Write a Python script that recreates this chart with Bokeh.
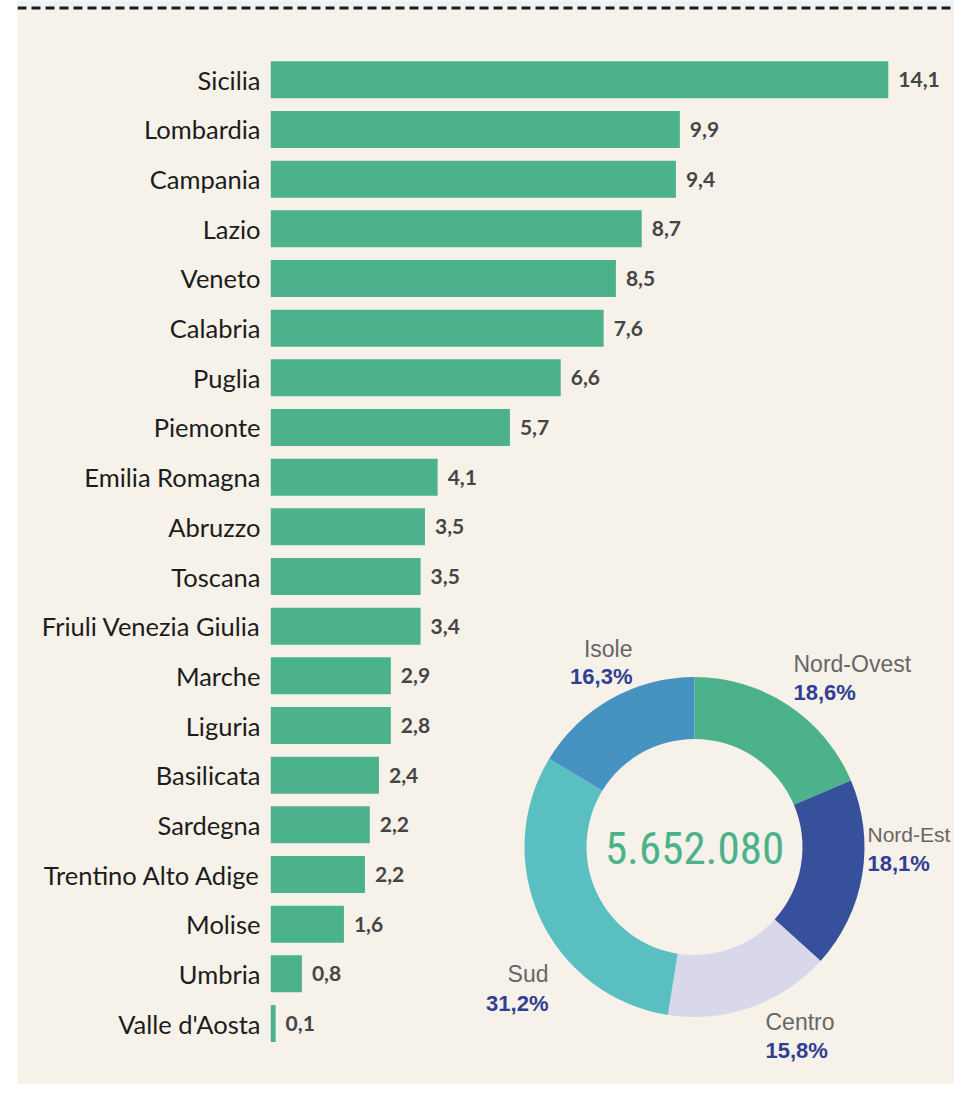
import math
from bokeh.plotting import figure
from bokeh.models import Range1d
from bokeh.core.properties import value
from bokeh.embed import file_html
from bokeh.resources import INLINE

# ---------------- data ----------------
regions = ["Sicilia", "Lombardia", "Campania", "Lazio", "Veneto", "Calabria",
           "Puglia", "Piemonte", "Emilia Romagna", "Abruzzo", "Toscana",
           "Friuli Venezia Giulia", "Marche", "Liguria", "Basilicata", "Sardegna",
           "Trentino Alto Adige", "Molise", "Umbria", "Valle d'Aosta"]
# printed values (labels)
label_values = [14.1, 9.9, 9.4, 8.7, 8.5, 7.6, 6.6, 5.7, 4.1, 3.5, 3.5,
                3.4, 2.9, 2.8, 2.4, 2.2, 2.2, 1.6, 0.8, 0.1]
# bar lengths as drawn in the picture
bar_values = [14.1, 9.34, 9.25, 8.47, 7.88, 7.60, 6.62, 5.46, 3.81, 3.52, 3.42,
              3.42, 2.74, 2.74, 2.47, 2.26, 2.15, 1.67, 0.71, 0.11]

macro_regions = ["Nord-Ovest", "Nord-Est", "Centro", "Sud", "Isole"]
macro_shares = [18.6, 18.1, 15.8, 31.2, 16.3]
total_label = "5.652.080"

# ---------------- style ----------------
BG = "#f6f1e9"
GREEN = "#4bb28b"
macro_colors = ["#4bb28b", "#37509b", "#d9d8eb", "#5abfc1", "#4692c0"]
PCT_COLOR = "#2f3f92"
NAME_COLOR = "#666666"

W, H = 954, 1084
FRAME_LEFT = 17
ZERO_PX = 270.3
K = 617.5 / 14.1          # pixels per unit on x
ROW0, PITCH = 79.3, 49.67  # centre of first row, row pitch
N = len(regions)


def xd(px):
    return (px - ZERO_PX) / K


def yd(py):
    return (N - 1) - (py - ROW0) / PITCH


p = figure(width=W, height=H, output_backend="svg", toolbar_location=None,
           x_range=Range1d(xd(FRAME_LEFT), xd(W)),
           y_range=Range1d(yd(H), yd(0)),
           x_axis_type=None, y_axis_type=None,
           min_border_left=FRAME_LEFT, min_border_right=0,
           min_border_top=0, min_border_bottom=0)
p.background_fill_color = BG
p.border_fill_color = "white"
p.outline_line_color = None
p.grid.visible = False

rows = [N - 1 - i for i in range(N)]

# top strip and dashed rule
p.quad(left=[xd(FRAME_LEFT)], right=[xd(W)], top=[yd(0)], bottom=[yd(7)],
       fill_color="#eef2f7", line_color=None)
p.segment(x0=[xd(FRAME_LEFT)], x1=[xd(W)], y0=[yd(7.5)], y1=[yd(7.5)],
          line_color="#1a1a1a", line_width=3, line_dash="9 5")

# bars
p.hbar(y=rows, left=0, right=bar_values, height=37 / PITCH,
       fill_color=GREEN, line_color=None)

# category labels
p.text(x=xd(260), y=rows, text=regions, text_align="right", text_baseline="middle",
       text_font=value("Lato"), text_font_size="25.5px", text_color="#1c1c1c")

# value labels
value_texts = [f"{v:.1f}".replace(".", ",") for v in label_values]
p.text(x=bar_values, y=rows, text=value_texts, x_offset=10,
       text_align="left", text_baseline="middle",
       text_font=value("Lato"), text_font_style="bold", text_font_size="21px",
       text_color="#454545")

# donut
cx, cy = xd(694), yd(846.5)
starts, ends = [], []
c = 0.0
for s in macro_shares:
    starts.append(math.pi / 2 - c / 100 * 2 * math.pi)
    c += s
    ends.append(math.pi / 2 - c / 100 * 2 * math.pi)
p.annular_wedge(x=cx, y=cy, inner_radius=108, outer_radius=170,
                inner_radius_units="screen", outer_radius_units="screen",
                start_angle=starts, end_angle=ends, direction="clock",
                fill_color=macro_colors, line_color=None)

p.text(x=[cx], y=[yd(847)], text=[total_label], text_align="center",
       text_baseline="middle", text_font=value("Roboto Condensed"),
       text_font_size="45px", text_color=GREEN)

# donut labels (layout positions in page pixels, text centres)
lab_x = [793, 867, 765, 548, 632]
lab_align = ["left", "left", "left", "right", "right"]
name_mid = [663, 834, 1021, 973, 648]
pct_mid = [692, 863, 1050, 1003, 676]
name_size = ["23px", "21px", "23px", "23px", "23px"]
pct_texts = [f"{v:.1f}%".replace(".", ",") for v in macro_shares]

for i in range(len(macro_regions)):
    p.text(x=[xd(lab_x[i])], y=[yd(name_mid[i])], text=[macro_regions[i]],
           text_align=lab_align[i], text_baseline="middle",
           text_font=value("Liberation Sans"), text_font_size=name_size[i],
           text_color=NAME_COLOR)
    p.text(x=[xd(lab_x[i])], y=[yd(pct_mid[i])], text=[pct_texts[i]],
           text_align=lab_align[i], text_baseline="middle",
           text_font=value("Liberation Sans"), text_font_style="bold",
           text_font_size="22px", text_color=PCT_COLOR)

open("out.html", "w").write(file_html(p, INLINE))
